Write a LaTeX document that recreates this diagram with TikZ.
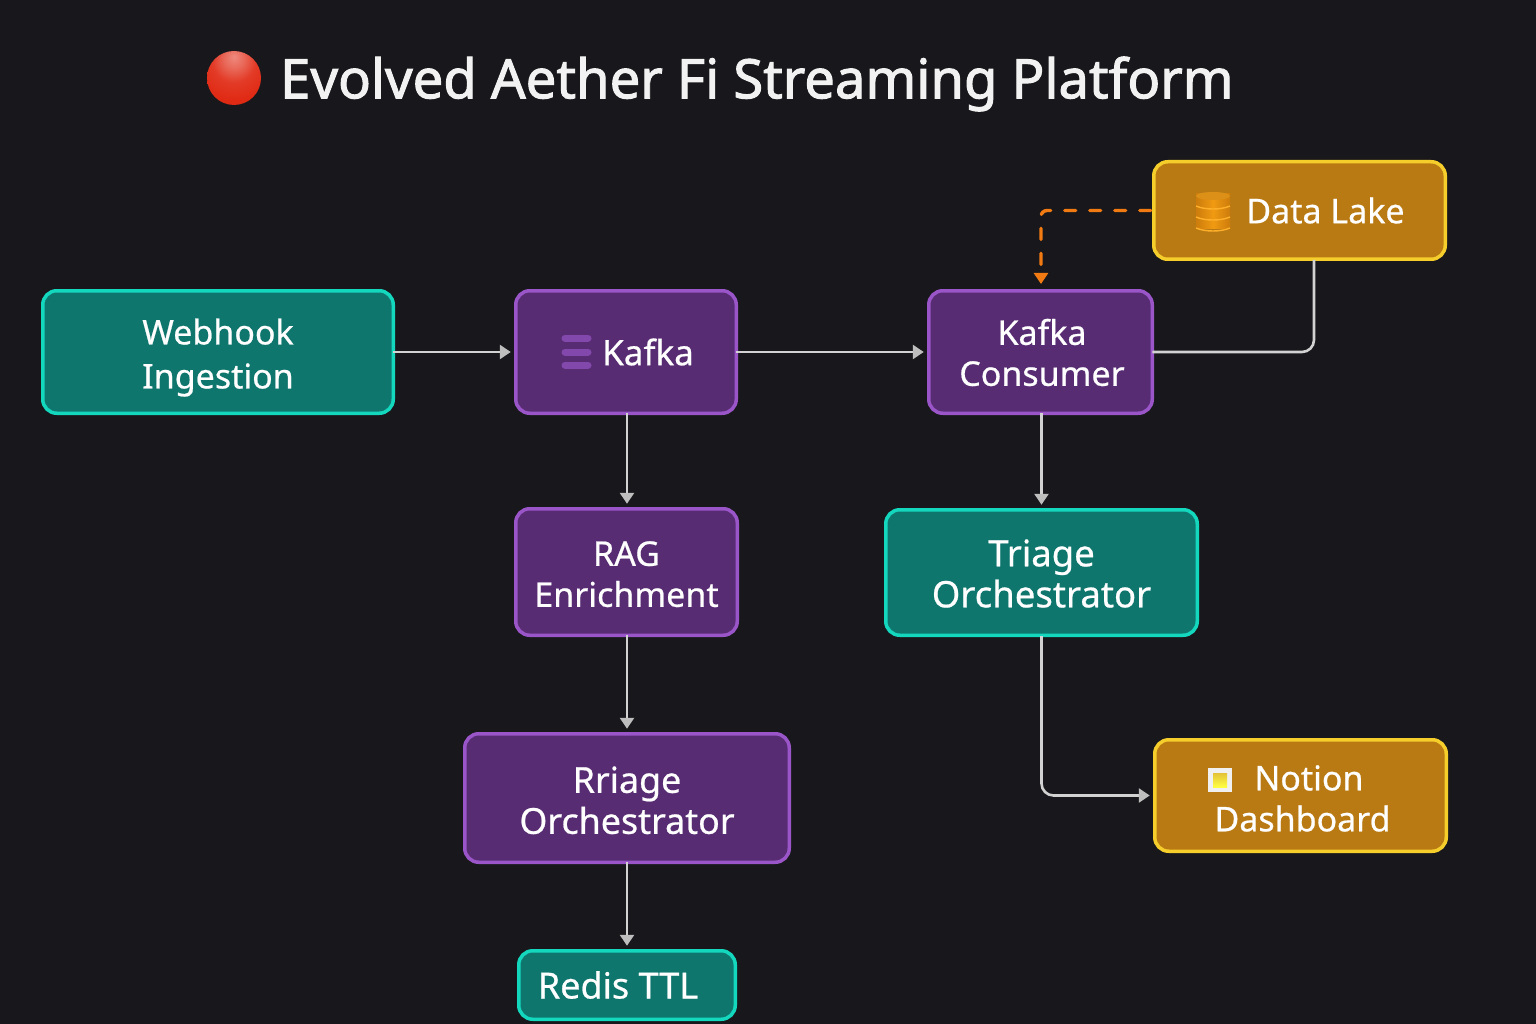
\documentclass[tikz,border=0pt]{standalone}
\usepackage{fontspec}
\setmainfont[FakeBold=0.6]{Noto Sans}
\newfontfamily\titlefont[FakeBold=1.8]{Noto Sans}
\usetikzlibrary{arrows.meta,calc}
\definecolor{bgc}{HTML}{18181C}
\definecolor{tealf}{HTML}{0F766E}
\definecolor{teald}{HTML}{14D8BE}
\definecolor{purpf}{HTML}{582C73}
\definecolor{purpd}{HTML}{9A55C9}
\definecolor{ambf}{HTML}{B97A14}
\definecolor{ambd}{HTML}{F5CE2C}
\definecolor{edgec}{HTML}{D2D2D2}
\definecolor{tipc}{HTML}{BEBEBE}
\definecolor{dashc}{HTML}{F27A12}
\definecolor{ballred}{HTML}{E02A14}
\definecolor{drumc}{HTML}{F09A12}
\definecolor{drume}{HTML}{CC7C0C}
\definecolor{drumr}{HTML}{FFB02A}
\definecolor{drumt}{HTML}{DC9018}
\pgfdeclareradialshading{ballshade}{\pgfpoint{0bp}{20bp}}{
 color(0bp)=(ballred!55!white); color(9bp)=(ballred!70!white); color(20bp)=(ballred!92!white);
 color(34bp)=(ballred); color(70bp)=(ballred!88!black); color(100bp)=(ballred!80!black)}
\newcommand{\dn}[1]{\rule{0pt}{\dimexpr 27pt+#1pt\relax}}
\tikzset{
 x=1pt,y=-1pt,
 box/.style={rectangle,rounded corners=14pt,line width=3.5pt,outer sep=0pt,inner sep=0pt,text=white,align=center,font=\fontsize{34}{41}\selectfont},
 tealbox/.style={box,fill=tealf,draw=teald},
 purpbox/.style={box,fill=purpf,draw=purpd},
 ambbox/.style={box,fill=ambf,draw=ambd},
 conn/.style={draw=edgec,line width=2.6pt,rounded corners=12pt},
 flow/.style={conn,-{Triangle[length=11pt,width=14pt,fill=tipc,color=tipc]},shorten >=5pt},
 back/.style={draw=dashc,line width=3.4pt,line cap=round,dash pattern=on 11pt off 14pt,rounded corners=6pt,-{Triangle[length=11pt,width=14pt,fill=dashc]},shorten >=6pt,shorten <=3pt},
}
\begin{document}
\begin{tikzpicture}
\useasboundingbox (0,0) rectangle (1536,1024);
\fill[bgc] (0,0) rectangle (1536,1024);
% title
\shade[shading=ballshade,draw=none] (234,78) circle (27);
\node[text=white!95!black,anchor=west,inner sep=0pt,font=\fontsize{54.4}{60}\selectfont\titlefont] (title) at (280,84) {Evolved Aether Fi Streaming Platform};
% boxes
\node[tealbox,minimum width=350.5pt,minimum height=122.5pt,font=\fontsize{34}{44}\selectfont] (webhook) at (218,352) {\dn{10}Webhook\\Ingestion};
\node[purpbox,minimum width=220.5pt,minimum height=122.5pt,font=\fontsize{35}{41}\selectfont] (kafka) at (626,352) {\hspace*{44pt}Kafka};
\node[purpbox,minimum width=223.5pt,minimum height=122.5pt] (consumer) at (1040.5,352) {\dn{0}\hspace*{3pt}Kafka\\\hspace*{3pt}Consumer};
\node[ambbox,minimum width=291.5pt,minimum height=97.5pt] (lake) at (1299.5,210.5) {\hspace*{52pt}Data Lake};
\node[purpbox,minimum width=221.5pt,minimum height=126.5pt] (rag) at (626.5,572) {\dn{2}RAG\\Enrichment};
\node[tealbox,minimum width=311.5pt,minimum height=125.5pt,font=\fontsize{36.5}{41}\selectfont] (triage) at (1041.5,572.5) {\dn{2}Triage\\Orchestrator};
\node[purpbox,minimum width=324.5pt,minimum height=128.5pt,font=\fontsize{35.8}{41}\selectfont] (rriage) at (627,798) {\dn{4}Rriage\\Orchestrator};
\node[tealbox,minimum width=216.5pt,minimum height=68.5pt,font=\fontsize{36}{41}\selectfont] (redis) at (627,985) {Redis TTL\hspace*{18pt}};
\node[ambbox,minimum width=291.5pt,minimum height=111.5pt] (notion) at (1300.5,795.5) {\dn{4}\hspace*{17pt}Notion\\\hspace*{4pt}Dashboard};
% free ends
\coordinate (lakedrop) at (1314,260);
\coordinate (consumertop) at (1041,290);
\coordinate (triageexit) at (1041.5,636);
% connectors
\draw[flow] (webhook.east) -- (kafka.west);
\draw[flow] (kafka.east) -- (consumer.west);
\draw[flow] (rriage.north |- kafka.south) -- (rriage.north |- rag.north);
\draw[flow] (rriage.north |- rag.south) -- (rriage.north);
\draw[flow] (rriage.south) -- (redis.north);
\draw[flow] (triage.north |- consumer.south) -- (triage.north);
\draw[flow] (triageexit) |- (notion.west);
\draw[conn] (consumer.east) -| (lakedrop);
\draw[back] (lake.west) -| (consumertop);
% kafka icon
\foreach \yy in {338,352,365}{
 \draw[line cap=round,line width=7pt,draw=purpd!85!black] (565,\yy) -- (588,\yy);
}
% data lake icon
\foreach \yy in {223,212,201}{
 \fill[left color=drume,right color=drume,middle color=drumc] (1196,\yy-7) rectangle (1230,\yy+6);
 \draw[line width=1.4pt,draw=drumr] (1196,\yy+5) .. controls (1205,\yy+9) and (1221,\yy+9) .. (1230,\yy+5);
}
\fill[drumt] (1213,196) ellipse (17 and 4);
% notion icon
\fill[white!88!gray] (1208,768) rectangle (1232,792);
\shade[top color=ambd!85!gray,bottom color=yellow!75!white] (1213,773) rectangle (1227,787);
\end{tikzpicture}
\end{document}
